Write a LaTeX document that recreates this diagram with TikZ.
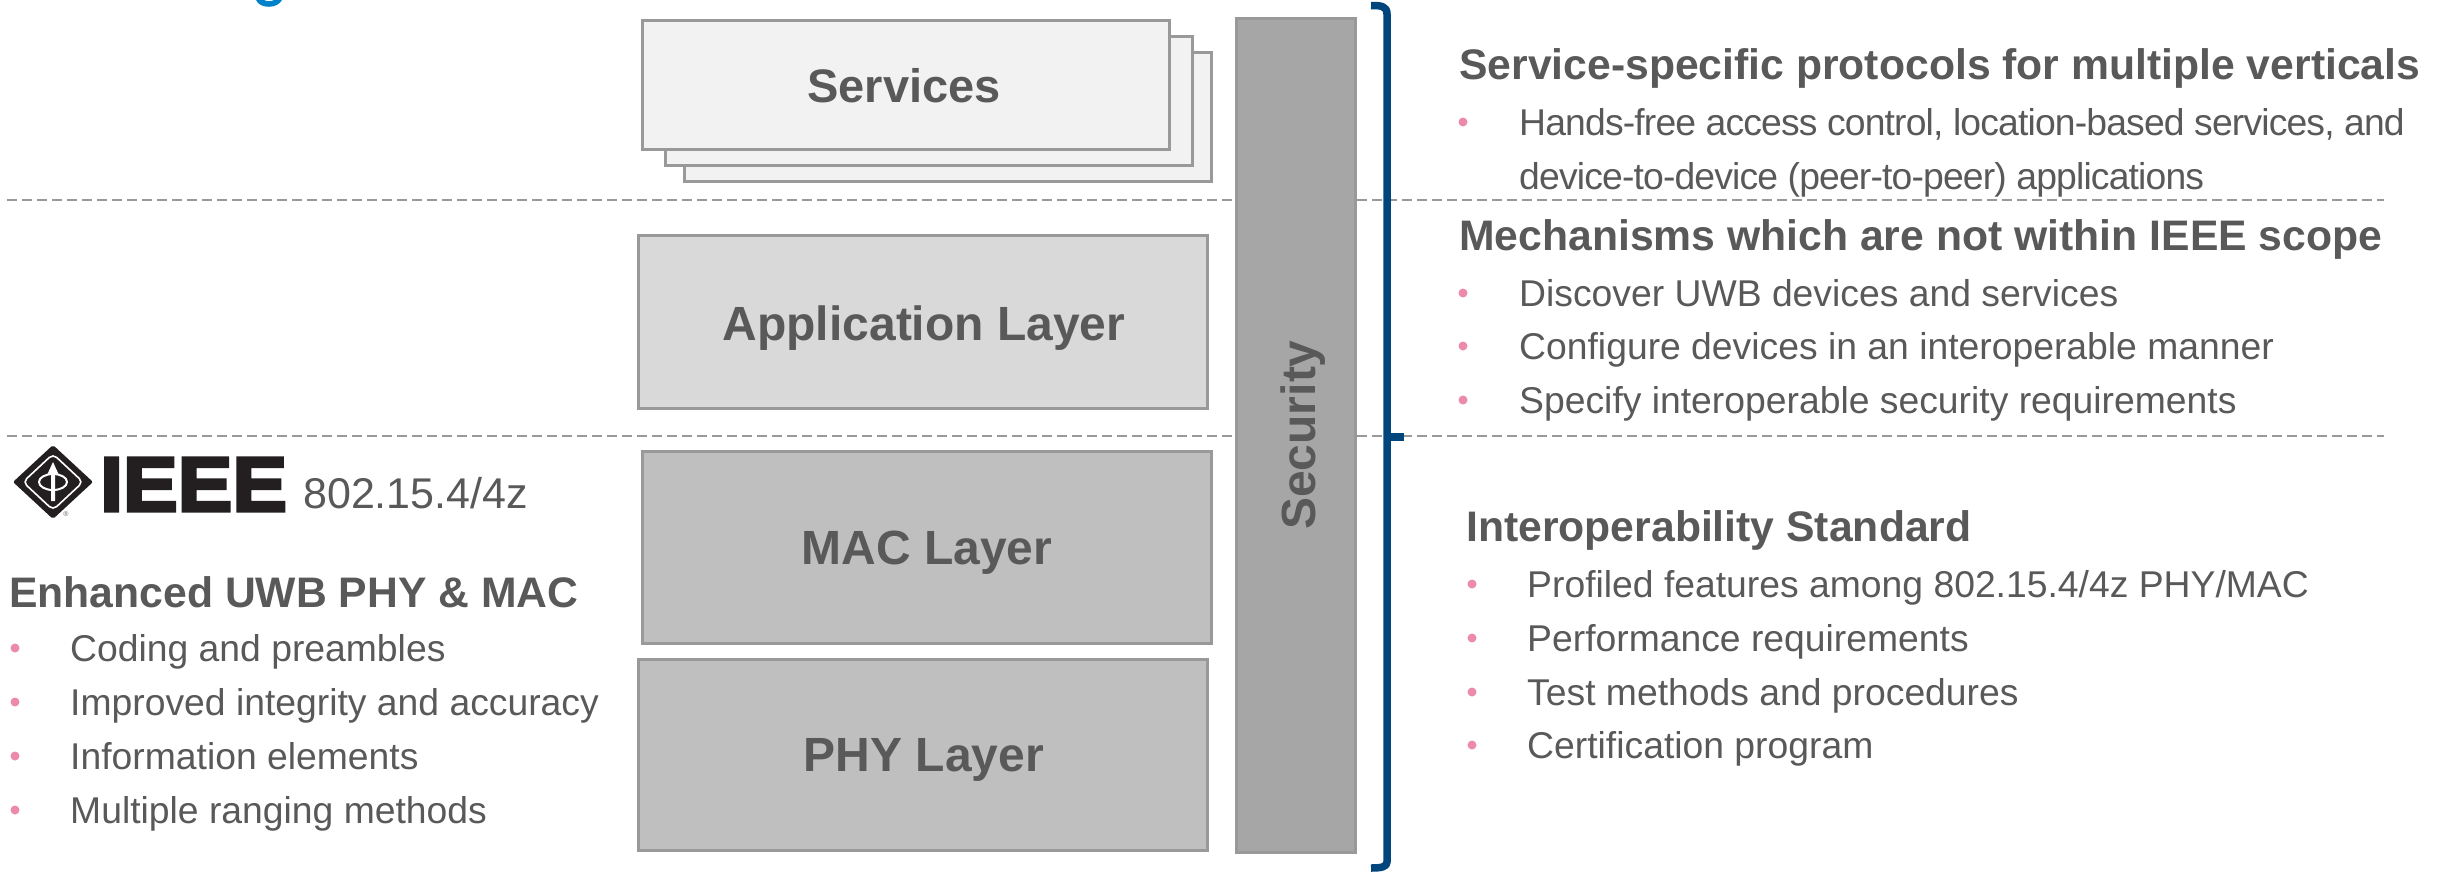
\documentclass[tikz,border=0pt]{standalone}
\usepackage{fontspec}
\setmainfont{Liberation Sans}
\newfontfamily\ieeefont[FakeBold=4,FakeStretch=1.065]{Liberation Sans Bold}
\definecolor{txt}{HTML}{595959}
\definecolor{edge}{HTML}{999999}
\definecolor{pinkb}{HTML}{EB8AA9}
\definecolor{navy}{HTML}{00457C}
\definecolor{ieeeblk}{HTML}{231F20}
\definecolor{titleblue}{HTML}{0082CA}
\tikzset{
  layerbox/.style={draw=edge,line width=2.6pt,inner sep=0,rectangle},
  layerlabel/.style={text=txt,font=\fontsize{48}{50}\selectfont\bfseries},
  head/.style={anchor=base west,inner sep=0,text=txt,font=\fontsize{42.7}{46}\selectfont\bfseries},
  body/.style={anchor=base west,inner sep=0,text=txt,font=\fontsize{37.3}{42}\selectfont},
  tightbody/.style={body,font=\fontsize{37.3}{42}\selectfont\addfontfeatures{LetterSpace=-2.25}},
  bul/.style={circle,fill=pinkb,inner sep=0,minimum size=9pt},
  sep/.style={draw=edge,line width=2pt,dash pattern=on 10pt off 5pt},
}
\newcommand{\lbox}[6]{% name x1 y1 x2 y2 fill
  \node[layerbox,fill=#6,minimum width=#4pt-#2pt,minimum height=#5pt-#3pt,anchor=north west] (#1) at (#2,#3) {};}
\newcommand{\bitem}[5]{% name bulletx textx baseline text
  \node[bul] (#1b) at (#2,#4-13) {};
  \node[body] (#1) at (#3,#4) {#5};}
\begin{document}
\begin{tikzpicture}[x=1pt,y=-1pt]
\useasboundingbox (0,0) rectangle (2446,871);
\fill[titleblue] (256,0) .. controls (258,5) and (264,6.8) .. (269,6.8) .. controls (275,6.8) and (280,4) .. (282,0) -- (274,0) .. controls (272,1.5) and (266,1.5) .. (264,0) -- cycle;
% separators
\coordinate (s1l) at (7,199.5); \coordinate (s1r) at (2384,199.5);
\coordinate (s2l) at (7,436); \coordinate (s2r) at (2384,436);
\draw[sep] (s1l) -- (s1r);
\draw[sep] (s2l) -- (s2r);
% stacked services
\lbox{svc3}{683}{51}{1210}{180}{black!5}
\lbox{svc2}{664}{35}{1191}{164}{black!5}
\lbox{svc1}{641}{19}{1168}{148}{black!5}
\node[layerlabel,font=\fontsize{47}{50}\selectfont\bfseries] (svclabel) at (904,86) {Services};
\lbox{app}{637}{234}{1206}{407}{black!15}
\node[layerlabel] (applabel) at (924,328) {Application Layer};
\lbox{mac}{641}{450}{1210}{642}{black!25}
\node[layerlabel] (maclabel) at (927,553) {MAC Layer};
\lbox{phy}{637}{658}{1206}{849}{black!25}
\node[layerlabel] (phylabel) at (924,760) {PHY Layer};
\lbox{sec}{1235}{17}{1354}{851}{black!35}
\node[layerlabel,rotate=90] (seclabel) at (1303,435) {Security};
% bracket
\coordinate (bt) at (1371,5.5); \coordinate (bb) at (1371,868);
\coordinate (bm) at (1387,437); \coordinate (btip) at (1404,437);
\draw[navy,line width=7.5pt,line join=round] (bt) .. controls (1381,5.5) and (1387,6) .. (1387,14) -- (1387,862) .. controls (1387,867) and (1381,868) .. (bb);
\draw[navy,line width=7.5pt] (bm) -- (btip);
% logo
\fill[ieeeblk,rounded corners=2pt] (53,445) -- (93,482) -- (53,519) -- (13,482) -- cycle;
\draw[white,line width=1.6pt,rounded corners=5pt] (53,454) -- (83,482) -- (53,510) -- (23,482) -- cycle;
\draw[white,line width=2pt] (53,482) ellipse (14pt and 8pt);
\fill[white] (53,462) -- (58.5,474) -- (55,473) -- (55,501) -- (51,501) -- (51,473) -- (47.5,474) -- cycle;
\node[inner sep=0,text=ieeeblk!70,font=\fontsize{7}{8}\selectfont] (reg) at (66,514) {®};
\node[anchor=base west,inner sep=0,text=ieeeblk,font=\ieeefont\fontsize{77}{80}\selectfont] (ieee) at (100,511) {IEEE};
\node[anchor=base west,inner sep=0,text=txt,font=\fontsize{43}{46}\selectfont] (std) at (303,508) {802.15.4/4z};
% left
\node[head] (h1) at (9,607) {Enhanced UWB PHY \& MAC};
\bitem{l1}{15}{70}{661}{Coding and preambles}
\bitem{l2}{15}{70}{715}{Improved integrity and accuracy}
\bitem{l3}{15}{70}{769}{Information elements}
\bitem{l4}{15}{70}{823}{Multiple ranging methods}
% right top
\node[head] (h2) at (1459,79) {Service-specific protocols for multiple verticals};
\node[bul] (r1b) at (1463,122) {};
\node[tightbody] (r1) at (1519,135) {Hands-free access control, location-based services, and};
\node[tightbody] (r1c) at (1519,189) {device-to-device (peer-to-peer) applications};
\node[head] (h3) at (1459,250) {Mechanisms which are not within IEEE scope};
\bitem{r2}{1463}{1519}{306}{Discover UWB devices and services}
\bitem{r3}{1463}{1519}{359}{Configure devices in an interoperable manner}
\bitem{r4}{1463}{1519}{413}{Specify interoperable security requirements}
\node[head] (h4) at (1466,541) {Interoperability Standard};
\bitem{r5}{1472}{1527}{597}{Profiled features among 802.15.4/4z PHY/MAC}
\bitem{r6}{1472}{1527}{651}{Performance requirements}
\bitem{r7}{1472}{1527}{705}{Test methods and procedures}
\bitem{r8}{1472}{1527}{758}{Certification program}
\end{tikzpicture}
\end{document}
